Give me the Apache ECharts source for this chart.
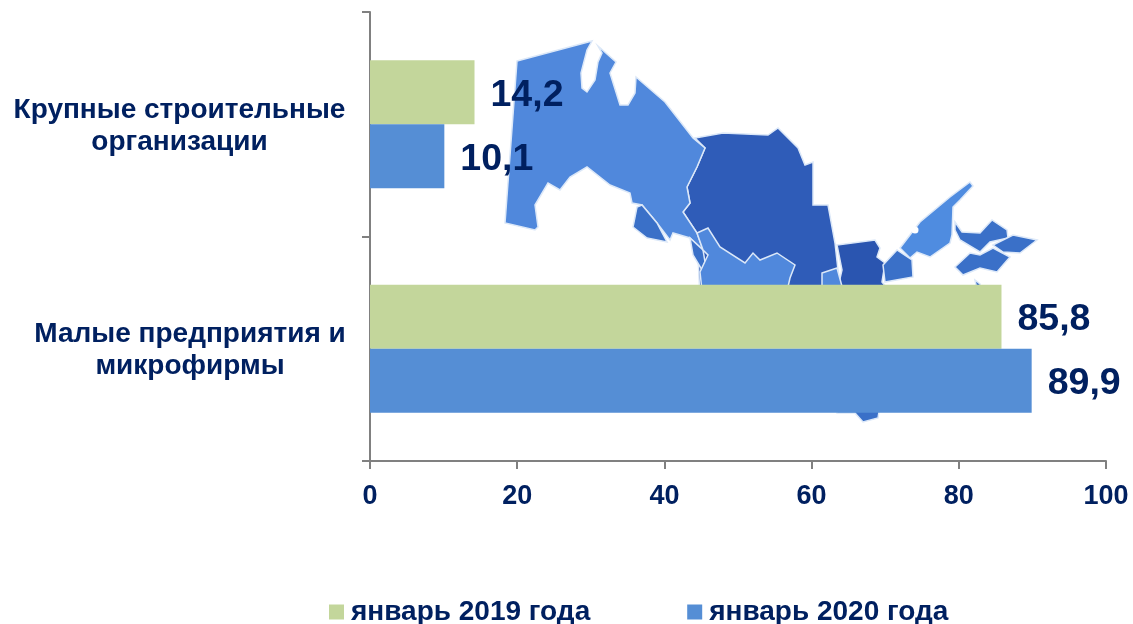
<!DOCTYPE html>
<html>
<head>
<meta charset="utf-8">
<style>
  html, body { margin: 0; padding: 0; background: #fff; }
  #chart { width: 1133px; height: 624px; }
</style>
<script src="https://cdn.jsdelivr.net/npm/echarts@6/dist/echarts.min.js"></script>
</head>
<body>
<div id="chart"></div>
<script>
const categories = ['Крупные строительные\nорганизации', 'Малые предприятия и\nмикрофирмы'];
const seriesNames = ['январь 2019 года', 'январь 2020 года'];
const values2019 = [14.2, 85.8];
const values2020 = [10.1, 89.9];
const xTicks = [0, 20, 40, 60, 80, 100];

const NAVY = '#002060';
const FONT = '"Liberation Sans", Arial, sans-serif';
const MAP_LIGHT = '#5088dc';
const MAP_MID = '#3a70c8';
const MAP_DARK = '#2f5cb8';

// backdrop map of the country, page pixels, sits behind the bars
const mapRegions = [
    { fill: MAP_DARK, points: [[695,138],[723,133],[768,135],[778,128],[798,148],[805,165],[813,162],[813,205],[828,205],[835,243],[838,270],[842,300],[700,300],[697,233],[683,212],[690,203],[687,187],[697,167],[705,148]] },
    { fill: MAP_LIGHT, points: [[517,61],[592,41],[587,50],[581,73],[582,88],[587,92],[595,80],[598,62],[602,53],[598,46],[616,62],[610,73],[620,105],[628,105],[635,93],[636,77],[665,102],[693,138],[705,148],[697,167],[687,187],[690,203],[683,212],[697,233],[703,250],[690,238],[673,233],[670,240],[657,223],[642,205],[632,203],[630,193],[610,185],[587,167],[570,177],[560,190],[548,183],[535,205],[538,227],[535,230],[505,223]] },
    { fill: MAP_MID, points: [[637,207],[633,227],[647,238],[667,242],[657,223],[642,205]] },
    { fill: MAP_MID, points: [[690,238],[703,250],[705,262],[702,270],[693,255]] },
    { fill: MAP_LIGHT, points: [[697,233],[708,228],[720,247],[745,263],[753,253],[760,260],[777,253],[795,265],[790,278],[785,300],[703,300],[700,272],[708,255],[703,250]] },
    { fill: '#2a55b0', points: [[837,245],[875,240],[880,248],[877,257],[885,263],[882,282],[897,300],[835,300],[842,270]] },
    { fill: MAP_LIGHT, points: [[822,273],[837,268],[843,290],[822,295]] },
    { fill: MAP_MID, points: [[883,265],[897,250],[912,260],[913,277],[885,282]] },
    { fill: '#4f8ce0', points: [[900,248],[920,222],[950,197],[970,182],[973,186],[960,200],[953,207],[952,235],[950,243],[930,257],[917,252],[910,258]] },
    { fill: MAP_MID, points: [[955,222],[962,232],[980,233],[992,220],[1007,230],[1008,238],[990,242],[980,252],[960,240],[955,230]] },
    { fill: MAP_MID, points: [[993,245],[1013,235],[1037,240],[1020,253],[1003,252]] },
    { fill: MAP_MID, points: [[955,267],[970,253],[980,255],[993,248],[1010,257],[997,272],[980,268],[963,275]] },
    { fill: MAP_MID, points: [[975,280],[980,284],[982,290],[977,290]] },
    { fill: MAP_MID, points: [[837,405],[880,405],[878,418],[863,422],[855,413],[837,413]] }
];

const chart = echarts.init(document.getElementById('chart'));

const valueLabel = {
    show: true,
    position: 'right',
    distance: 16,
    offset: [0, 3],
    color: NAVY,
    fontFamily: FONT,
    fontWeight: 'bold',
    fontSize: 37.5,
    formatter: p => p.value.toFixed(1).replace('.', ',')
};

chart.setOption({
    animation: false,
    backgroundColor: '#fff',
    graphic: {
        elements: mapRegions.map(r => ({
            type: 'polygon',
            silent: true,
            z: -1,
            shape: { points: r.points },
            style: { fill: r.fill, stroke: '#dce8f8', lineWidth: 1.5 }
        })).concat([{
            type: 'circle',
            silent: true,
            z: -1,
            shape: { cx: 915, cy: 230, r: 3.5 },
            style: { fill: '#fff' }
        }])
    },
    legend: {
        left: 329,
        top: 598,
        padding: 0,
        icon: 'rect',
        itemWidth: 15,
        itemHeight: 15,
        itemGap: 97,
        textStyle: { color: NAVY, fontFamily: FONT, fontWeight: 'bold', fontSize: 28, padding: [0, 0, 0, 2] },
        data: seriesNames
    },
    grid: { left: 370, top: 12, width: 736, height: 449 },
    xAxis: {
        type: 'value',
        min: 0,
        max: xTicks[xTicks.length - 1],
        interval: 20,
        splitLine: { show: false },
        axisLine: { show: true, lineStyle: { color: '#808080', width: 2 } },
        axisTick: { show: true, length: 8, lineStyle: { color: '#808080', width: 2 } },
        axisLabel: { margin: 22, color: NAVY, fontFamily: FONT, fontWeight: 'bold', fontSize: 27 }
    },
    yAxis: {
        type: 'category',
        inverse: true,
        data: categories,
        axisLine: { show: true, lineStyle: { color: '#808080', width: 2 } },
        axisTick: { show: true, length: 8, lineStyle: { color: '#808080', width: 2 } },
        axisLabel: {
            margin: 25,
            padding: [4, 0, 0, 0],
            formatter: (v, i) => v.split('\n').map(line => `{c${i}|${line}}`).join('\n'),
            rich: {
                c0: { width: 331, align: 'center', lineHeight: 32, color: NAVY, fontFamily: FONT, fontWeight: 'bold', fontSize: 28 },
                c1: { width: 310, align: 'center', lineHeight: 32, color: NAVY, fontFamily: FONT, fontWeight: 'bold', fontSize: 28 }
            }
        }
    },
    series: [
        {
            name: seriesNames[0],
            type: 'bar',
            data: values2019,
            barGap: 0,
            barCategoryGap: '43%',
            itemStyle: { color: '#c3d69b' },
            label: valueLabel
        },
        {
            name: seriesNames[1],
            type: 'bar',
            data: values2020,
            itemStyle: { color: '#558ed5' },
            label: valueLabel
        }
    ]
});

window.addEventListener('resize', () => chart.resize());
</script>
</body>
</html>
